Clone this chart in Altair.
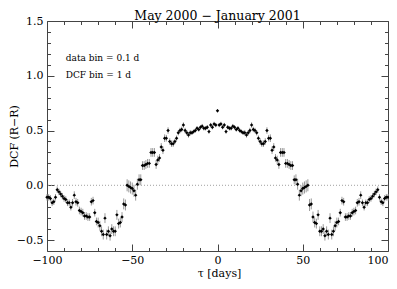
import altair as alt
import pandas as pd

# ---- data (1-day DCF bins) ----
tau_neg = list(range(-100, 0))
tau_pos = list(range(0, 101))

dcf_neg = [-0.11, -0.11, -0.12, -0.16, -0.15, -0.11, -0.04, -0.06, -0.08, -0.10,   # -100..-91
           -0.12, -0.13, -0.16, -0.16, -0.20, -0.16, -0.09, -0.15, -0.16, -0.23,   # -90..-81
           -0.24, -0.25, -0.28, -0.28, -0.29, -0.29, -0.15, -0.14, -0.25, -0.33,   # -80..-71
           -0.34, -0.37, -0.42, -0.45, -0.30, -0.45, -0.42, -0.46, -0.40, -0.42,   # -70..-61
           -0.42, -0.27, -0.35, -0.34, -0.29, -0.17, -0.18, 0.00, -0.01, -0.02,    # -60..-51
           -0.03, -0.05, -0.09, 0.01, 0.05, 0.05, 0.18, 0.18, 0.19, 0.20,          # -50..-41
           0.20, 0.30, 0.30, 0.30, 0.19, 0.23, 0.25, 0.35, 0.32, 0.43,             # -40..-31
           0.43, 0.50, 0.40, 0.38, 0.38, 0.40, 0.43, 0.48, 0.50, 0.51,             # -30..-21
           0.55, 0.50, 0.48, 0.46, 0.48, 0.48, 0.49, 0.50, 0.52, 0.51,             # -20..-11
           0.53, 0.54, 0.52, 0.52, 0.53, 0.49, 0.55, 0.53, 0.56, 0.55]             # -10..-1

dcf_pos = [0.68, 0.55, 0.56, 0.53, 0.55, 0.49, 0.53, 0.52, 0.52, 0.54,             # 0..9
           0.53, 0.51, 0.52, 0.50, 0.49, 0.48, 0.48, 0.46, 0.48, 0.50,             # 10..19
           0.55, 0.51, 0.50, 0.48, 0.43, 0.40, 0.38, 0.38, 0.40, 0.50,             # 20..29
           0.43, 0.43, 0.32, 0.35, 0.25, 0.23, 0.19, 0.30, 0.30, 0.30,             # 30..39
           0.20, 0.20, 0.19, 0.18, 0.18, 0.05, 0.05, 0.01, -0.09, -0.05,           # 40..49
           -0.03, -0.02, -0.01, 0.00, -0.18, -0.17, -0.29, -0.34, -0.35, -0.27,    # 50..59
           -0.42, -0.42, -0.40, -0.46, -0.42, -0.45, -0.30, -0.45, -0.42, -0.37,   # 60..69
           -0.34, -0.33, -0.25, -0.14, -0.15, -0.29, -0.29, -0.28, -0.28, -0.25,   # 70..79
           -0.24, -0.23, -0.16, -0.15, -0.09, -0.16, -0.20, -0.16, -0.16, -0.13,   # 80..89
           -0.12, -0.10, -0.08, -0.06, -0.04, -0.11, -0.15, -0.16, -0.12, -0.11,   # 90..99
           -0.11]                                                                  # 100

err_neg = [0.03, 0.03, 0.03, 0.03, 0.03, 0.03, 0.03, 0.03, 0.03, 0.03,
           0.03, 0.03, 0.03, 0.03, 0.03, 0.035, 0.035, 0.035, 0.035, 0.035,
           0.035, 0.035, 0.035, 0.035, 0.035, 0.035, 0.035, 0.035, 0.035, 0.035,
           0.045, 0.045, 0.045, 0.045, 0.045, 0.045, 0.045, 0.045, 0.045, 0.045,
           0.045, 0.045, 0.045, 0.045, 0.045, 0.05, 0.05, 0.055, 0.055, 0.055,
           0.055, 0.055, 0.05, 0.05, 0.05, 0.05, 0.04, 0.04, 0.04, 0.04,
           0.04, 0.04, 0.04, 0.04, 0.04, 0.04, 0.035, 0.035, 0.035, 0.035,
           0.03, 0.03, 0.03, 0.03, 0.03, 0.025, 0.025, 0.025, 0.025, 0.025,
           0.025, 0.025, 0.025, 0.025, 0.025, 0.02, 0.02, 0.02, 0.02, 0.02,
           0.02, 0.02, 0.02, 0.02, 0.02, 0.02, 0.02, 0.02, 0.02, 0.02]

err_pos = [0.015, 0.02, 0.02, 0.02, 0.02, 0.02, 0.02, 0.02, 0.02, 0.02,
           0.02, 0.02, 0.02, 0.02, 0.02, 0.02, 0.025, 0.025, 0.025, 0.025,
           0.025, 0.025, 0.025, 0.025, 0.025, 0.03, 0.03, 0.03, 0.03, 0.03,
           0.03, 0.035, 0.035, 0.035, 0.035, 0.04, 0.04, 0.04, 0.04, 0.04,
           0.04, 0.04, 0.04, 0.04, 0.04, 0.04, 0.05, 0.05, 0.05, 0.05,
           0.055, 0.055, 0.055, 0.055, 0.055, 0.05, 0.05, 0.045, 0.045, 0.045,
           0.045, 0.045, 0.045, 0.045, 0.045, 0.045, 0.045, 0.045, 0.045, 0.045,
           0.045, 0.035, 0.035, 0.035, 0.035, 0.035, 0.035, 0.035, 0.035, 0.035,
           0.035, 0.035, 0.035, 0.035, 0.035, 0.03, 0.03, 0.03, 0.03, 0.03,
           0.03, 0.03, 0.03, 0.03, 0.03, 0.03, 0.03, 0.03, 0.03, 0.03,
           0.03]

x_ticks = [-100, -90, -80, -70, -60, -50, -40, -30, -20, -10, 0,
           10, 20, 30, 40, 50, 60, 70, 80, 90, 100]
y_ticks = [-0.5, -0.4, -0.3, -0.2, -0.1, 0.0, 0.1, 0.2, 0.3, 0.4, 0.5,
           0.6, 0.7, 0.8, 0.9, 1.0, 1.1, 1.2, 1.3, 1.4, 1.5]

annot_x = [-89, -89]
annot_y = [1.165, 1.005]
annot_text = ["data bin = 0.1 d", "DCF bin = 1 d"]

zero_level = [0.0]

title_text = "May 2000 \u2212 January 2001"
x_title = "\u03c4 [days]"
y_title = "DCF (R\u2212R)"

# ---- build ----
df = pd.DataFrame({"tau": tau_neg + tau_pos,
                   "dcf": dcf_neg + dcf_pos,
                   "err": err_neg + err_pos})
annot = pd.DataFrame({"x": annot_x, "y": annot_y, "t": annot_text})
zero_df = pd.DataFrame({"level": zero_level})

FONT = "DejaVu Serif"
FRAME = "#444444"
PLOT_W, PLOT_H = 341, 230

xs = alt.Scale(domain=[-100, 100], nice=False, zero=False)
ys = alt.Scale(domain=[-0.6, 1.5], nice=False, zero=False)

x_size = alt.ExprRef(expr="datum.value % 50 === 0 ? -7 : -3.5")
y_size = alt.ExprRef(expr="abs(round(datum.value * 10)) % 5 === 0 ? -7 : -3.5")


def x_axis(orient, show_labels, title=None):
    kw = dict(orient=orient, values=x_ticks, tickSize=x_size, domain=False,
              grid=False, tickColor=FRAME, tickWidth=1, labels=show_labels,
              format="d", labelExpr="datum.value % 50 === 0 ? datum.label : ''",
              labelFont=FONT, labelFontSize=11, labelColor="black",
              labelPadding=10, labelFlush=False, labelOverlap=False,
              labelBaseline="top",
              labelAlign=alt.ConditionalAxisLabelAlign(
                  condition={"test": "datum.value === 100", "value": "right"},
                  value="center"))
    if title is not None:
        kw.update(title=title, titleFont=FONT, titleFontSize=11,
                  titleFontWeight="normal", titleColor="black",
                  titleX=172, titleY=22, titleBaseline="middle",
                  titleAlign="center")
    else:
        kw.update(title=None)
    return alt.Axis(**kw)


def y_axis(orient, show_labels, title=None):
    kw = dict(orient=orient, values=y_ticks, tickSize=y_size, domain=False,
              grid=False, tickColor=FRAME, tickWidth=1, labels=show_labels,
              format=".1f",
              labelExpr="abs(round(datum.value * 10)) % 5 === 0 ? datum.label : ''",
              labelFont=FONT, labelFontSize=11, labelColor="black",
              labelPadding=11, labelFlush=False, labelOverlap=False,
              labelBaseline="middle")
    if title is not None:
        kw.update(title=title, titleFont=FONT, titleFontSize=11,
                  titleFontWeight="normal", titleColor="black",
                  titleX=-33, titleY=PLOT_H / 2, titleAngle=270,
                  titleBaseline="middle", titleAlign="center")
    else:
        kw.update(title=None)
    return alt.Axis(**kw)


base = alt.Chart(df)

errbars = base.transform_calculate(
    lo="datum.dcf - datum.err", hi="datum.dcf + datum.err"
).mark_rule(color="#999999", strokeWidth=1).encode(
    x=alt.X("tau:Q", scale=xs, axis=x_axis("bottom", True, x_title)),
    y=alt.Y("lo:Q", scale=ys, axis=y_axis("left", True, y_title)),
    y2="hi:Q",
)

zero = alt.Chart(zero_df).mark_rule(
    color="#a0a0a0", strokeDash=[1, 2], strokeWidth=1
).encode(y=alt.Y("level:Q", scale=ys, axis=None))

points = base.mark_point(shape="diamond", filled=True, size=12,
                         color="black", opacity=1).encode(
    x=alt.X("tau:Q", scale=xs, axis=x_axis("top", False)),
    y=alt.Y("dcf:Q", scale=ys, axis=y_axis("right", False)),
)

labels = alt.Chart(annot).mark_text(
    align="left", baseline="middle", font=FONT, fontSize=9, color="black"
).encode(
    x=alt.X("x:Q", scale=xs, axis=None),
    y=alt.Y("y:Q", scale=ys, axis=None),
    text="t:N",
)

chart = alt.layer(zero, errbars, points, labels).resolve_axis(
    x="independent", y="independent"
).properties(
    width=PLOT_W, height=PLOT_H,
    title=alt.TitleParams(title_text, font=FONT, fontSize=12.5,
                          fontWeight="normal", color="black",
                          anchor="middle", offset=3, dy=10),
    autosize=alt.AutoSizeParams(type="none"),
    padding={"left": 39, "top": 13, "right": 1, "bottom": 30},
).configure_view(stroke=FRAME, strokeWidth=1)

chart.save("out.html", embed_options={"renderer": "svg", "actions": False})
